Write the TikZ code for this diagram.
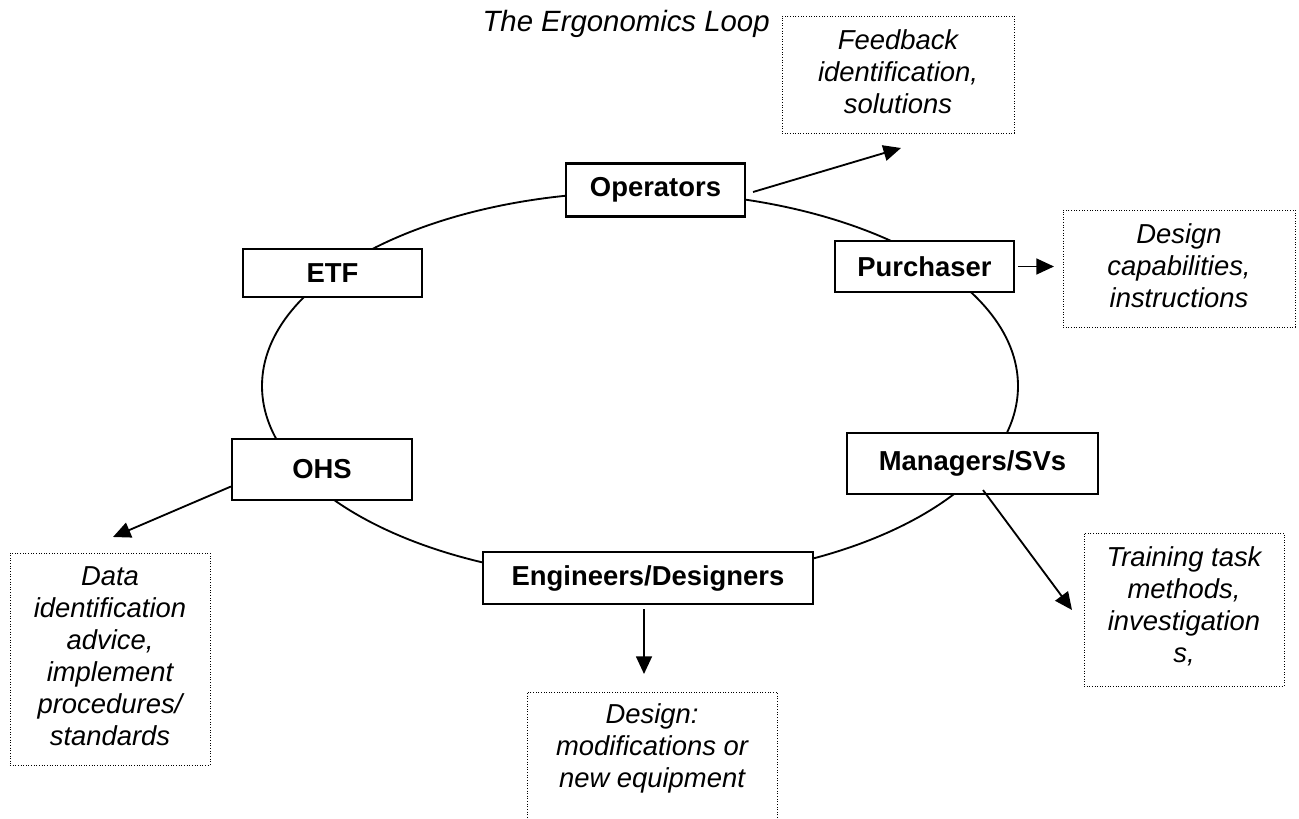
\documentclass[tikz,border=0pt]{standalone}
\usepackage{fontspec}
\setmainfont{Liberation Sans}
\usetikzlibrary{positioning,arrows.meta}

\tikzset{
unit/.style={draw, line width=1.2pt, fill=white, inner sep=0pt, font=\bfseries\fontsize{15.6}{18.2}\selectfont},
outbox/.style={draw, densely dotted, line width=0.5pt, inner sep=0pt},
outtext/.style={align=center, inner sep=0pt, font=\itshape\fontsize{15.6}{18.2}\selectfont},
arr/.style={-{Triangle[length=10pt,width=9pt]}, line width=1.05pt}
}

\begin{document}
\begin{tikzpicture}
\useasboundingbox (0,0) rectangle (25.98,-16.38);
\draw [line width=1.05pt] (12.8,-7.72) ellipse [x radius=7.56cm, y radius=3.88cm];
\node[outtext, anchor=base east, font=\itshape\fontsize{16.7}{19}\selectfont] (title) at (15.4,-0.64) {The Ergonomics Loop};

\node[unit, minimum width=3.58cm, minimum height=1.06cm] (op) at (13.11,-3.8) {Operators};
\node[unit, minimum width=3.58cm, minimum height=0.96cm] (etf) at (6.65,-5.46) {ETF};
\node[unit, minimum width=3.58cm, minimum height=1.02cm] (pu) at (18.49,-5.33) {Purchaser};
\node[unit, minimum width=3.6cm, minimum height=1.22cm] (ohs) at (6.44,-9.39) {OHS};
\node[unit, minimum width=5.02cm, minimum height=1.22cm] (mgr) at (19.45,-9.27) {Managers/SVs};
\node[unit, minimum width=6.6cm, minimum height=1.04cm] (eng) at (12.96,-11.56) {Engineers/Designers};

\node[outbox, minimum width=4.64cm, minimum height=2.34cm] (fb) at (17.96,-1.49) {};
\node[outtext, below=0.28cm of fb.north] (fbt) {Feedback\\identification,\\solutions};
\node[outbox, minimum width=4.64cm, minimum height=2.34cm] (dc) at (23.58,-5.37) {};
\node[outtext, below=0.28cm of dc.north] (dct) {Design\\capabilities,\\instructions};
\node[outbox, minimum width=4cm, minimum height=4.24cm] (dt) at (2.2,-13.18) {};
\node[outtext, below=0.28cm of dt.north] (dtt) {Data\\identification\\advice,\\implement\\procedures/\\standards};
\node[outbox, minimum width=4cm, minimum height=3.06cm] (tr) at (23.68,-12.19) {};
\node[outtext, below=0.28cm of tr.north] (trt) {Training task\\methods,\\investigation\\s,};
\node[outbox, minimum width=5cm, minimum height=3.16cm] (dm) at (13.04,-15.42) {};
\node[outtext, below=0.24cm of dm.north] (dmt) {Design:\\modifications or\\new equipment};

\coordinate (fbtip) at (18.02,-2.96);
\coordinate (dctip) at (21.08,-5.33);
\coordinate (dttip) at (2.26,-10.74);
\coordinate (trtip) at (21.44,-12.2);
\coordinate (dmtip) at (12.88,-13.48);

\draw[arr] ([xshift=0.14cm,yshift=-0.04cm]op.east) -- (fbtip);
\draw[arr] ([xshift=0.06cm]pu.east) -- (dctip);
\draw[arr] ([yshift=-0.34cm]ohs.west) -- (dttip);
\draw[arr] ([xshift=0.21cm,yshift=0.1cm]mgr.south) -- (trtip);
\draw[arr] ([xshift=-0.08cm,yshift=-0.08cm]eng.south) -- (dmtip);
\end{tikzpicture}
\end{document}
